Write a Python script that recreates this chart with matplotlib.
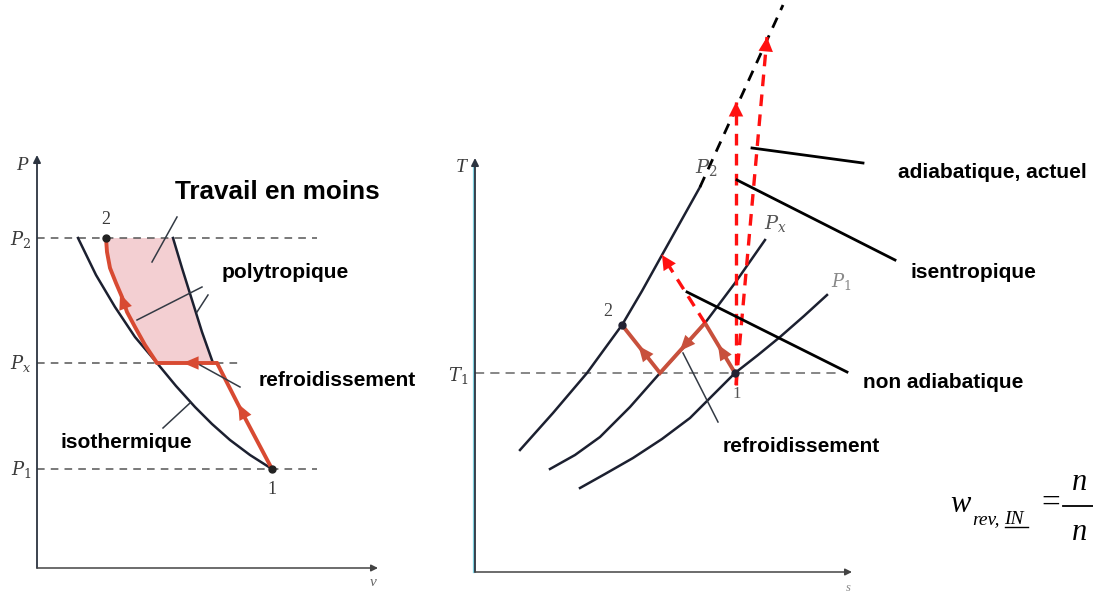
import matplotlib
matplotlib.use('Agg')
import matplotlib.pyplot as plt
import numpy as np
from matplotlib.patches import Polygon

W, H = 1093, 593

# ---------------- P-v diagram (left), pixel coordinates ----------------
pv_axis = dict(x=37, bottom=568, top=155, right=378)
pv_level_names = ['$P_2$', '$P_x$', '$P_1$']
pv_level_y = [238, 363, 469]
pv_level_xend = [317, 240, 317]

iso_x = [78, 96, 115, 135, 157, 176, 195, 212, 230, 250, 272]
iso_y = [238, 275, 307, 337, 363, 386, 407, 424, 440, 455, 469]
adia_x = [173, 182, 192, 202, 213]
adia_y = [238, 268, 300, 332, 363]
comp1_x = [272, 245, 217]          # 1 -> Px (adiabatic)
comp1_y = [469, 418, 363]
cool_x = [217, 157]                # cooling at Px
cool_y = [363, 363]
poly_x = [157, 145, 135, 127, 122, 116, 110, 107, 106]   # polytropic to 2
poly_y = [363, 345, 327, 312, 297, 283, 268, 252, 238]
pv_pt1 = (272, 469)
pv_pt2 = (106, 238)

# ---------------- T-s diagram (right) ----------------
ts_axis = dict(x=475, bottom=572, top=158, right=852)
t1_y = 373
t1_xend = 840
p2_x = [520, 553, 587, 622, 642, 662, 681, 700]
p2_y = [450, 413, 373, 325, 291, 255, 221, 187]
p2_ext_x = [700, 783]
p2_ext_y = [187, 5]
px_x = [550, 575, 600, 630, 660, 683, 705, 735, 765]
px_y = [469, 455, 437, 407, 373, 348, 323, 283, 240]
p1_x = [580, 605, 633, 662, 690, 712, 735, 758, 780, 804, 827]
p1_y = [488, 474, 458, 439, 418, 396, 373, 355, 337, 316, 295]
ts_path_x = [735, 705, 660, 622]     # 1 -> Px -> cool -> 2
ts_path_y = [373, 323, 373, 325]
isen_x = [736, 736]
isen_y = [385, 102]
actual_x = [736, 767]
actual_y = [385, 37]
nonad_x = [705, 662]
nonad_y = [323, 255]

# ---------------- annotation texts ----------------
labels = [
    ('Travail en moins', 175, 192, 18.8),
    ('polytropique', 222, 273, 15),
    ('refroidissement', 259, 380, 15),
    ('isothermique', 60, 442, 15),
    ('adiabatique, actuel', 898, 173, 15),
    ('isentropique', 910, 273, 15),
    ('non adiabatique', 863, 383, 15),
    ('refroidissement', 723, 447, 15),
]
thin_leaders = [((177, 217), (152, 262)), ((202, 287), (137, 320)),
                ((208, 295), (197, 312)), ((200, 365), (240, 387)),
                ((163, 428), (190, 403)), ((683, 353), (718, 422))]
thick_leaders = [((752, 148), (863, 163)), ((737, 180), (895, 260)),
                 ((687, 292), (847, 372))]

RED_SOLID = '#c8503c'
CURVE = '#1c2030'
GREY = '#555555'
LABEL = '#3a3a3a'

fig = plt.figure(figsize=(W / 100, H / 100), dpi=100)
ax = fig.add_axes([0, 0, 1, 1])
ax.set_xlim(0, W)
ax.set_ylim(H, 0)
ax.axis('off')


def axis_arrows(a, color):
    ax.annotate('', xy=(a['x'], a['top']), xytext=(a['x'], a['bottom']),
                arrowprops=dict(arrowstyle='-|>', color=color, lw=1.3,
                                mutation_scale=11, shrinkA=0, shrinkB=0))
    ax.annotate('', xy=(a['right'], a['bottom']), xytext=(a['x'], a['bottom']),
                arrowprops=dict(arrowstyle='-|>', color='#444444', lw=1.1,
                                mutation_scale=10, shrinkA=0, shrinkB=0))


def head(x0, y0, x1, y1, frac, color, ms=14):
    xm = x0 + (x1 - x0) * frac
    ym = y0 + (y1 - y0) * frac
    d = np.hypot(x1 - x0, y1 - y0)
    ux, uy = (x1 - x0) / d, (y1 - y0) / d
    ax.annotate('', xy=(xm + 4 * ux, ym + 4 * uy), xytext=(xm - 4 * ux, ym - 4 * uy),
                arrowprops=dict(arrowstyle='-|>,head_length=0.7,head_width=0.3',
                                color=color, lw=0.01, mutation_scale=ms,
                                shrinkA=0, shrinkB=0))


# ---- left panel ----
axis_arrows(pv_axis, '#2c3440')
for name, y, xe in zip(pv_level_names, pv_level_y, pv_level_xend):
    ax.plot([pv_axis['x'], xe], [y, y], ls=(0, (5, 4)), color=GREY, lw=1.1)
    ax.text(21, y + 1, name, ha='center', va='center', fontsize=13,
            color=LABEL, family='Liberation Serif', math_fontfamily='dejavuserif')
ax.text(22, 165, 'P', ha='center', va='center', fontsize=14, style='italic',
        color=LABEL, family='Liberation Serif')
ax.text(373, 582, 'v', ha='center', va='center', fontsize=11, style='italic',
        color='#666666', family='Liberation Serif')

fill_pts = list(zip(poly_x, poly_y)) + list(zip(adia_x, adia_y))
ax.add_patch(Polygon(fill_pts, closed=True, facecolor='#f3cfd2', edgecolor='none', zorder=1))
ax.plot(iso_x, iso_y, color=CURVE, lw=1.8, zorder=2)
ax.plot(adia_x, adia_y, color=CURVE, lw=1.8, zorder=2)
for xs, ys in [(comp1_x, comp1_y), (cool_x, cool_y), (poly_x, poly_y)]:
    ax.plot(xs, ys, color='#d84a32', lw=2.8, zorder=3, solid_capstyle='round')
head(comp1_x[0], comp1_y[0], comp1_x[-1], comp1_y[-1], 0.58, '#d84a32', 16)
head(cool_x[0], cool_y[0], cool_x[1], cool_y[1], 0.5, '#d84a32', 16)
head(poly_x[3], poly_y[3], poly_x[5], poly_y[5], 0.5, '#d84a32', 16)
for (px, py), lab, dy in [(pv_pt1, '1', 20), (pv_pt2, '2', -18)]:
    ax.plot(px, py, 'o', color='#222222', ms=5, zorder=4)
    ax.text(px, py + dy, lab, ha='center', va='center', fontsize=13,
            color=LABEL, family='Liberation Serif')

# ---- right panel ----
ax.plot([ts_axis['x'] - 1.5] * 2, [ts_axis['bottom'], ts_axis['top'] + 8], color='#7fd0e0', lw=1.6)
axis_arrows(ts_axis, '#2c3440')
ax.text(461, 168, 'T', ha='center', va='center', fontsize=14, style='italic',
        color=LABEL, family='Liberation Serif')
ax.text(458, 376, '$T_1$', ha='center', va='center', fontsize=13, color=LABEL,
        math_fontfamily='dejavuserif')
ax.text(848, 588, 's', ha='center', va='center', fontsize=9, style='italic',
        color='#888888', family='Liberation Serif')
ax.plot([ts_axis['x'], t1_xend], [t1_y, t1_y], ls=(0, (6, 4)), color='#666666', lw=1.1)
for xs, ys in [(p2_x, p2_y), (px_x, px_y), (p1_x, p1_y)]:
    ax.plot(xs, ys, color=CURVE, lw=1.8)
ax.plot(p2_ext_x, p2_ext_y, color='black', lw=2, ls=(0, (4, 3)))
ax.text(706, 167, '$P_2$', ha='center', va='center', fontsize=14, color='#555555',
        math_fontfamily='dejavuserif')
ax.text(775, 223, '$P_x$', ha='center', va='center', fontsize=14, color='#555555',
        math_fontfamily='dejavuserif')
ax.text(841, 281, '$P_1$', ha='center', va='center', fontsize=13, color='#888888',
        math_fontfamily='dejavuserif')

ax.plot(ts_path_x, ts_path_y, color=RED_SOLID, lw=2.8, zorder=3, solid_joinstyle='miter')
for i in range(3):
    head(ts_path_x[i], ts_path_y[i], ts_path_x[i + 1], ts_path_y[i + 1], 0.5, RED_SOLID, 16)

for xs, ys in [(isen_x, isen_y), (actual_x, actual_y), (nonad_x, nonad_y)]:
    ax.plot(xs, ys, color='#ff1010', lw=2.4, ls=(0, (3.5, 2.5)), zorder=4)
    ax.annotate('', xy=(xs[-1], ys[-1]),
                xytext=(xs[-1] - (xs[-1] - xs[0]) * 0.04, ys[-1] - (ys[-1] - ys[0]) * 0.04),
                arrowprops=dict(arrowstyle='-|>,head_length=0.8,head_width=0.4',
                                color='#ff1010', lw=0.01, mutation_scale=13,
                                shrinkA=0, shrinkB=0), zorder=5)

ax.plot(735, 373, 'o', color='#222233', ms=5, zorder=6)
ax.plot(622, 325, 'o', color='#222233', ms=5, zorder=6)
ax.text(737, 394, '1', ha='center', va='center', fontsize=12, color='#555555',
        family='Liberation Serif')
ax.text(608, 311, '2', ha='center', va='center', fontsize=13, color='#444444',
        family='Liberation Serif')

# ---- leaders & labels ----
for (a, b) in thin_leaders:
    ax.plot([a[0], b[0]], [a[1], b[1]], color='#333a44', lw=1.1, zorder=5)
for (a, b) in thick_leaders:
    ax.plot([a[0], b[0]], [a[1], b[1]], color='black', lw=2, zorder=5)
for txt, x, y, fs in labels:
    ax.text(x, y, txt, ha='left', va='center', fontsize=fs, fontweight='bold',
            family='Liberation Sans', color='black', zorder=6)

# ---- formula (cut at the right edge in the reference) ----
ax.text(950, 512, 'w', fontsize=22, style='italic', family='Liberation Serif', va='baseline')
ax.text(972, 524, 'rev,', fontsize=14, style='italic', family='Liberation Serif', va='baseline')
ax.text(1004, 524, 'IN', fontsize=14, style='italic', family='Liberation Serif', va='baseline')
ax.plot([1005, 1028], [527, 527], color='black', lw=1)
ax.text(1051, 512, '=', fontsize=24, family='Liberation Serif', va='baseline', ha='center')
ax.plot([1063, 1095], [506, 506], color='black', lw=1.3)
ax.text(1072, 490, 'n', fontsize=22, style='italic', family='Liberation Serif', va='baseline')
ax.text(1072, 540, 'n', fontsize=22, style='italic', family='Liberation Serif', va='baseline')

fig.savefig('out.png', dpi=100)
